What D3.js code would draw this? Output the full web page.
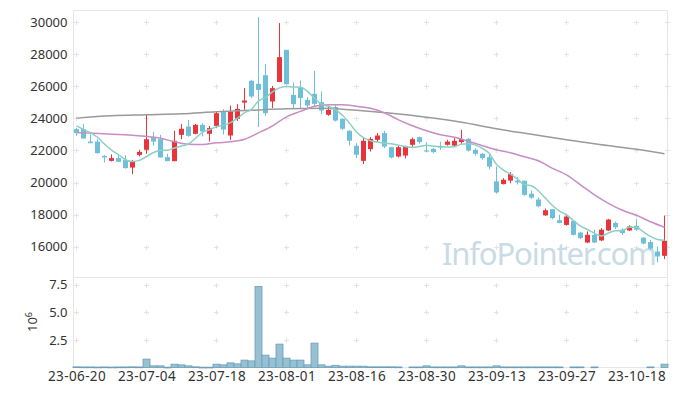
<!DOCTYPE html>
<html>
<head>
<meta charset="utf-8">
<script src="https://cdn.jsdelivr.net/npm/d3@7/dist/d3.min.js"></script>
<style>
  body { margin: 0; background: #fff; }
  svg { display: block; font-family: "Noto Sans", sans-serif; }
</style>
</head>
<body>
<svg id="chart" width="677" height="396"></svg>
<script>
var dates = ['23-06-20','23-06-21','23-06-22','23-06-23','23-06-26','23-06-27','23-06-28','23-06-29','23-06-30',
  '23-07-03','23-07-04','23-07-05','23-07-06','23-07-07','23-07-10','23-07-11','23-07-12','23-07-13','23-07-14',
  '23-07-17','23-07-18','23-07-19','23-07-20','23-07-21','23-07-24','23-07-25','23-07-26','23-07-27','23-07-28',
  '23-07-31','23-08-01','23-08-02','23-08-03','23-08-04','23-08-07','23-08-08','23-08-09','23-08-10','23-08-11',
  '23-08-14','23-08-16','23-08-17','23-08-18','23-08-21','23-08-22','23-08-23','23-08-24','23-08-25','23-08-28',
  '23-08-29','23-08-30','23-08-31','23-09-01','23-09-04','23-09-05','23-09-06','23-09-07','23-09-08','23-09-11',
  '23-09-12','23-09-13','23-09-14','23-09-15','23-09-18','23-09-19','23-09-20','23-09-21','23-09-22','23-09-25',
  '23-09-26','23-09-27','23-10-04','23-10-05','23-10-06','23-10-10','23-10-11','23-10-12','23-10-13','23-10-16',
  '23-10-17','23-10-18','23-10-19','23-10-20','23-10-23','23-10-24']

var opens = [23330,23330,22550,22550,21660,21350,21520,21400,20930,21720,22040,22830,22700,21580,21330,22970,23490,23035,23595,23035,
  23530,24400,22930,23970,24980,26340,26150,26690,25050,26260,28270,25460,25920,25150,25530,25010,24220,24700,23970,23220,
  22290,21350,22080,22660,23080,22200,21620,21680,22350,22830,21990,22100,22240,22350,22300,22520,22720,22040,21790,21580,
  20070,19900,20120,20120,20110,19300,18940,17950,18340,17650,17360,17610,16880,16260,16740,16390,17010,17480,17060,17010,
  17300,16560,16290,15700,15430]
var highs = [23410,23660,23000,22700,21700,21750,21750,21700,21410,22040,24260,23140,22970,21790,23220,23640,23900,23650,23700,23530,
  24420,24570,24800,24880,25880,26400,30310,27380,26020,29940,28270,26230,26350,25320,26960,25670,24780,24840,24000,23260,
  22450,22830,22830,23080,23220,22220,22300,22300,22800,22870,22520,22140,22550,22660,22770,23280,22770,22140,21830,21830,
  21000,20270,20650,20340,20110,19500,19070,18380,18340,17990,18000,17650,16930,16950,17050,17160,17730,17570,17160,17330,
  17720,16600,16430,16010,17940]
var lows = [22910,22740,22450,21790,21250,21310,21290,20860,20520,21620,21790,22300,21560,21330,21330,22700,22850,23000,22870,22550,
  23390,22990,22640,23840,24530,25260,23450,24160,24640,26260,26090,24590,24570,24570,24740,24280,24160,23800,23280,22300,
  21520,21150,21930,22520,22140,21500,21560,21500,22140,22410,21890,21840,22040,22300,22250,22410,21930,21680,21410,20830,
  19300,19880,19950,19870,19170,18970,18460,17930,17710,17460,17310,16700,16470,16220,16220,16350,16970,17100,16740,16990,
  16990,16150,15810,15020,15230]
var closes = [23080,22740,22450,21830,21560,21520,21290,20900,21300,21910,22700,22550,21560,21330,22600,23350,22910,23595,23180,23390,
  24320,23300,24420,24590,25110,25360,25770,24320,25880,27810,26130,24880,25260,24800,24900,24490,24530,23860,23350,22600,
  21730,22600,22720,22930,22240,21560,22200,22240,22700,22520,21930,21890,22180,22550,22600,22720,21990,21790,21520,20990,
  19380,20170,20520,20000,19230,19060,18520,18270,17780,17480,17880,16740,16530,16740,16260,17060,17690,17210,16850,17260,
  17060,16200,15880,15390,16370]

// volume in millions of shares
var volume = [0.06,0.05,0.05,0.04,0.05,0.04,0.05,0.05,0.06,0.05,0.76,0.15,0.15,0.03,0.30,0.24,0.15,0.06,0.03,0.03,
  0.30,0.24,0.42,0.33,0.67,0.60,7.35,1.12,0.85,2.12,0.85,0.67,0.67,0.24,2.21,0.24,0.12,0.20,0.12,0.12,
  0.12,0.12,0.06,0.06,0.06,0.06,0.05,0,0.05,0.05,0.15,0.05,0.05,0.05,0.05,0.15,0.05,0.05,0.05,0.05,
  0.15,0.05,0.05,0.05,0.05,0.05,0.05,0.05,0.05,0.05,0,0.05,0.05,0,0.05,0,0,0,0,0,
  0,0,0.05,0,0.30]

// moving averages
var ma5 = [23530,23310,23100,22820,22400,22020,21730,21420,21310,21380,21620,21870,22000,22010,22150,22280,22400,22760,23130,23290,
  23480,23560,23730,24010,24350,24560,25080,25300,25650,25900,25990,25950,25940,25680,25250,24880,24750,24520,24190,23700,
  23150,22800,22600,22520,22440,22410,22330,22230,22190,22240,22320,22260,22240,22210,22230,22390,22410,22330,22120,21800,
  21130,20770,20520,20210,19860,19800,19470,19020,18570,18220,17990,17630,17280,17070,16830,16670,16860,16990,17010,17210,
  17210,16920,16640,16450,16400]
var ma20Idx = [0,4,8,12,14,16,18,20,22,24,26,28,30,32,34,36,38,40,42,44,46,48,50,52,54,56,58,60,62,64,66,68,70,72,74,76,78,80,82,84]
var ma20 = [23115,23034,22941,22754,22536,22380,22368,22474,22536,22692,23097,23533,24093,24436,24748,24841,24841,24748,24623,24343,
  23907,23533,23221,22972,22816,22567,22287,22038,21851,21601,21352,20885,20480,19857,19234,18704,18268,17957,17552,17209]
var ma60Idx = [0,5,10,15,20,25,30,35,40,45,50,55,60,65,70,75,80,84]
var ma60 = [24012,24156,24218,24280,24405,24498,24592,24623,24498,24312,24062,23751,23346,23003,22661,22349,22069,21788]

var priceTicks = [16000,18000,20000,22000,24000,26000,28000,30000]
var volTicks = [2.5,5.0,7.5]
var dateTicks = [0,10,20,30,40,50,60,70,80]

var plotLeft = 73.5, plotRight = 667.5, plotTop = 10.5, plotMid = 277.5, plotBottom = 367.5

var svg = d3.select('#chart')

var x = d3.scaleLinear().domain([0, 84]).range([76.5, 664.5])
var y = d3.scaleLinear().domain([14080, 30720]).range([plotMid, plotTop])
var yv = d3.scaleLinear().domain([0, 8.16]).range([plotBottom, plotMid])

// frame lines
var frame = svg.append('g').attr('stroke', '#e6e6e6').attr('stroke-width', 1)
frame.append('line').attr('x1', plotLeft).attr('x2', plotRight).attr('y1', plotTop).attr('y2', plotTop)
frame.append('line').attr('x1', plotLeft).attr('x2', plotRight).attr('y1', plotMid).attr('y2', plotMid)
frame.append('line').attr('x1', plotLeft).attr('x2', plotRight).attr('y1', plotBottom).attr('y2', plotBottom)
frame.append('line').attr('x1', plotLeft).attr('x2', plotLeft).attr('y1', plotTop).attr('y2', plotBottom)
frame.append('line').attr('x1', plotRight).attr('x2', plotRight).attr('y1', plotTop).attr('y2', plotBottom)

// "+" grid markers
var gridX = dateTicks.map(d => x(d)).concat([plotRight])
var gridY = priceTicks.map(d => Math.round(y(d)) + 0.5).concat(volTicks.map(d => Math.round(yv(d)) + 0.5))
var plus = svg.append('g').attr('stroke', '#e2e2e2').attr('stroke-width', 1)
gridX.forEach(gx => {
  gridY.forEach(gy => {
    plus.append('line').attr('x1', gx - 2.5).attr('x2', gx + 2.5).attr('y1', gy).attr('y2', gy)
    plus.append('line').attr('x1', gx).attr('x2', gx).attr('y1', gy - 2.5).attr('y2', gy + 2.5)
  })
})

// watermark
svg.append('text')
  .attr('x', 657).attr('y', 265)
  .attr('text-anchor', 'end')
  .attr('font-size', 31)
  .attr('textLength', 215)
  .attr('fill', '#c9dbe5')
  .text('InfoPointer.com')

// axes
var yAxis = svg.append('g')
  .attr('transform', 'translate(' + plotLeft + ',0)')
  .call(d3.axisLeft(y).tickValues(priceTicks).tickSize(0).tickPadding(6).tickFormat(d3.format('d')))
var vAxis = svg.append('g')
  .attr('transform', 'translate(' + plotLeft + ',0)')
  .call(d3.axisLeft(yv).tickValues(volTicks).tickSize(0).tickPadding(6).tickFormat(d3.format('.1f')))
var xAxis = svg.append('g')
  .attr('transform', 'translate(0,' + plotBottom + ')')
  .call(d3.axisBottom(x).tickValues(dateTicks).tickSize(0).tickPadding(4).tickFormat(i => dates[i]))
;[yAxis, vAxis, xAxis].forEach(a => {
  a.select('.domain').remove()
  a.selectAll('text').attr('fill', '#333').attr('font-size', 13).attr('font-family', '"Noto Sans", sans-serif')
})
xAxis.selectAll('text').attr('font-size', 13.5).attr('letter-spacing', 0.4)

var unit = svg.append('text')
  .attr('transform', 'translate(37,322) rotate(-90)')
  .attr('text-anchor', 'middle')
  .attr('fill', '#333')
  .attr('font-size', 13)
unit.append('tspan').text('10')
unit.append('tspan').attr('dy', -5).attr('font-size', 9).text('6')

// volume bars
var idx = d3.range(dates.length)
svg.append('g').selectAll('rect')
  .data(idx.filter(i => volume[i] > 0))
  .enter().append('rect')
    .attr('x', i => x(i) - 3.5)
    .attr('width', 7)
    .attr('y', i => yv(volume[i]))
    .attr('height', i => Math.max(0.8, plotBottom - yv(volume[i])))
    .attr('fill', '#97c0d2')
    .attr('stroke', '#6d9fb8')
    .attr('stroke-width', 0.8)

// candles
var up = '#e8343a', down = '#6ec0d8'
var candles = svg.append('g').selectAll('g')
  .data(idx).enter().append('g')
candles.append('line')
  .attr('x1', i => x(i)).attr('x2', i => x(i))
  .attr('y1', i => y(highs[i])).attr('y2', i => y(lows[i]))
  .attr('stroke', i => closes[i] >= opens[i] ? up : down)
  .attr('stroke-width', 1)
candles.append('rect')
  .attr('x', i => x(i) - 2.5)
  .attr('width', 5)
  .attr('y', i => y(Math.max(opens[i], closes[i])))
  .attr('height', i => Math.max(1, Math.abs(y(opens[i]) - y(closes[i]))))
  .attr('fill', i => closes[i] >= opens[i] ? up : down)

// moving average lines
var line = d3.line().curve(d3.curveMonotoneX)
svg.append('path')
  .attr('d', line(ma60Idx.map((d, k) => [x(d), y(ma60[k])])))
  .attr('fill', 'none').attr('stroke', '#9a9a9a').attr('stroke-width', 1.5)
svg.append('path')
  .attr('d', line(ma20Idx.map((d, k) => [x(d), y(ma20[k])])))
  .attr('fill', 'none').attr('stroke', '#c98cc4').attr('stroke-width', 1.5)
svg.append('path')
  .attr('d', line(idx.map(i => [x(i), y(ma5[i])])))
  .attr('fill', 'none').attr('stroke', '#8ccfc3').attr('stroke-width', 1.5)
</script>
</body>
</html>
